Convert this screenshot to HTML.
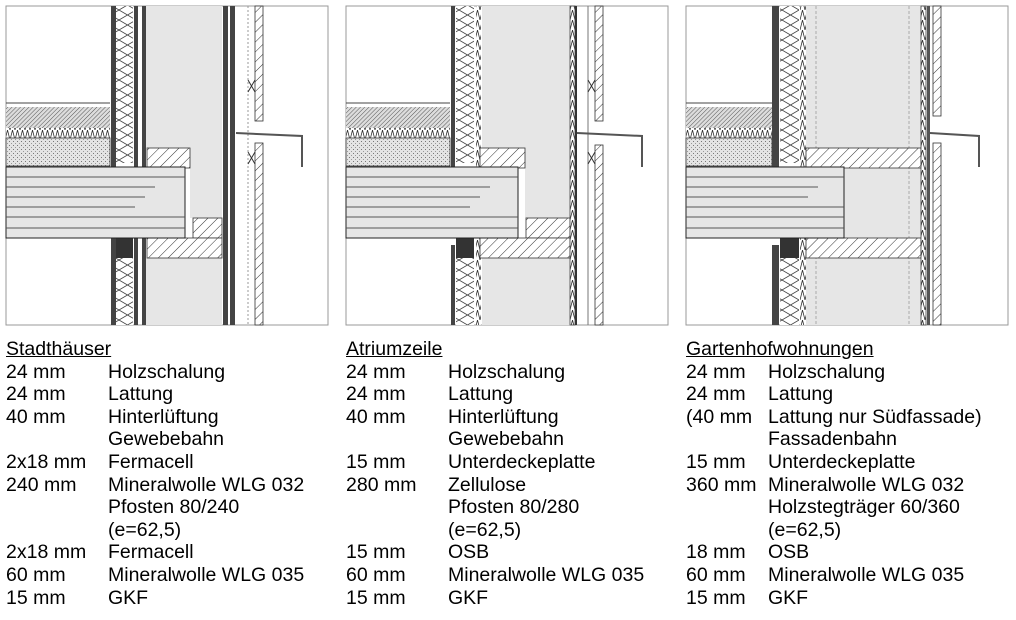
<!DOCTYPE html>
<html><head><meta charset="utf-8"><style>
html,body{margin:0;padding:0;background:#fff;}
svg{display:block;position:absolute;left:0;top:0}
.t{position:absolute;font-family:"Liberation Sans",Arial,sans-serif;font-size:19.5px;color:#000;line-height:22.6px;white-space:pre;margin:0}
</style></head><body>
<svg width="1016" height="330" viewBox="0 0 1016 330" xmlns="http://www.w3.org/2000/svg">
<defs>
<pattern id="h" width="7" height="7" patternUnits="userSpaceOnUse" patternTransform="rotate(45)"><rect width="7" height="7" fill="#fff"/><line x1="0" y1="0" x2="0" y2="7" stroke="#333" stroke-width="1"/></pattern>
<pattern id="hf" width="3" height="3" patternUnits="userSpaceOnUse" patternTransform="rotate(45)"><rect width="3" height="3" fill="#ddd"/><line x1="0" y1="0" x2="0" y2="3" stroke="#555" stroke-width="1"/></pattern>
<pattern id="z" width="17" height="10" patternUnits="userSpaceOnUse"><rect width="17" height="10" fill="#fff"/><path d="M0,0 L17,10 M17,0 L0,10" stroke="#444" stroke-width="0.8" fill="none"/></pattern>
<pattern id="zh" width="5" height="10" patternUnits="userSpaceOnUse"><rect width="5" height="10" fill="#fff"/><path d="M0,10 L2.5,0 L5,10" stroke="#333" fill="none" stroke-width="0.8"/></pattern>
<pattern id="d" width="4" height="4" patternUnits="userSpaceOnUse"><rect width="4" height="4" fill="#e4e4e4"/><rect x="1" y="1" width="1" height="1" fill="#777"/><rect x="3" y="3" width="1" height="1" fill="#999"/></pattern>
</defs>

<g>
<rect x="6" y="6" width="322" height="319" fill="#fff" stroke="#999"/>
<line x1="6" y1="103" x2="110" y2="103" stroke="#444"/>
<rect x="6" y="107" width="104" height="21" fill="url(#hf)"/>
<rect x="6" y="128" width="104" height="10" fill="url(#zh)"/>
<rect x="6" y="138" width="104" height="28" fill="url(#d)" stroke="#333" stroke-width="0.8"/>
<rect x="111" y="6" width="5" height="161" fill="#444"/>
<rect x="111" y="238" width="5" height="87" fill="#444"/>
<rect x="116" y="6" width="17" height="157" fill="url(#z)"/>
<rect x="116" y="258" width="17" height="67" fill="url(#z)"/>
<rect x="116" y="238" width="17" height="20" fill="#333"/>
<rect x="134" y="6" width="4" height="161" fill="#444"/><rect x="142" y="6" width="4" height="161" fill="#444"/>
<rect x="134" y="238" width="4" height="87" fill="#444"/><rect x="142" y="238" width="4" height="87" fill="#444"/>
<rect x="146" y="6" width="76" height="142" fill="#e6e6e6"/>
<rect x="146" y="258" width="76" height="67" fill="#e6e6e6"/>
<rect x="190" y="148" width="32" height="70" fill="#e6e6e6"/>
<rect x="147" y="148" width="43" height="20" fill="url(#h)" stroke="#333" stroke-width="0.8"/>
<rect x="193" y="218" width="29" height="20" fill="url(#h)" stroke="#333" stroke-width="0.8"/>
<rect x="147" y="238" width="75" height="20" fill="url(#h)" stroke="#333" stroke-width="0.8"/>
<rect x="6" y="167" width="179" height="71" fill="#e6e6e6" stroke="#222"/>
<g stroke="#555"><line x1="6" y1="177" x2="185" y2="177"/><line x1="6" y1="187" x2="155" y2="187"/><line x1="6" y1="197" x2="145" y2="197"/><line x1="6" y1="207" x2="135" y2="207"/><line x1="6" y1="217" x2="185" y2="217"/><line x1="6" y1="228" x2="185" y2="228"/></g>
<rect x="223" y="6" width="5" height="319" fill="#444"/><rect x="230" y="6" width="5" height="319" fill="#444"/>
<line x1="248" y1="6" x2="248" y2="325" stroke="#999" stroke-dasharray="2,2"/>
<rect x="255" y="6" width="8" height="115" fill="url(#h)" stroke="#333" stroke-width="0.8"/>
<rect x="255" y="143" width="8" height="182" fill="url(#h)" stroke="#333" stroke-width="0.8"/>
<path d="M236,133 L302,136 L302,167" fill="none" stroke="#555" stroke-width="2"/>
<path d="M248,80 L255,92 M255,80 L248,92 M248,152 L255,164 M255,152 L248,164" stroke="#333"/>
</g>

<g transform="translate(340,0)">
<rect x="6" y="6" width="322" height="319" fill="#fff" stroke="#999"/>
<line x1="6" y1="103" x2="110" y2="103" stroke="#444"/>
<rect x="6" y="107" width="104" height="21" fill="url(#hf)"/>
<rect x="6" y="128" width="104" height="10" fill="url(#zh)"/>
<rect x="6" y="138" width="104" height="28" fill="url(#d)" stroke="#333" stroke-width="0.8"/>
<rect x="111" y="6" width="4" height="161" fill="#444"/>
<rect x="111" y="245" width="4" height="80" fill="#444"/>
<rect x="116" y="6" width="18" height="157" fill="url(#z)"/>
<rect x="116" y="258" width="18" height="67" fill="url(#z)"/>
<rect x="116" y="238" width="18" height="20" fill="#333"/>
<rect x="136" y="6" width="5" height="319" fill="url(#zh)"/>
<rect x="142" y="6" width="88" height="142" fill="#e6e6e6"/>
<rect x="142" y="258" width="88" height="67" fill="#e6e6e6"/>
<rect x="185" y="148" width="45" height="70" fill="#e6e6e6"/>
<rect x="140" y="148" width="45" height="20" fill="url(#h)" stroke="#333" stroke-width="0.8"/>
<rect x="186" y="218" width="44" height="20" fill="url(#h)" stroke="#333" stroke-width="0.8"/>
<rect x="140" y="238" width="90" height="20" fill="url(#h)" stroke="#333" stroke-width="0.8"/>
<rect x="6" y="167" width="172" height="71" fill="#e6e6e6" stroke="#222"/>
<g stroke="#555"><line x1="6" y1="177" x2="178" y2="177"/><line x1="6" y1="187" x2="150" y2="187"/><line x1="6" y1="197" x2="140" y2="197"/><line x1="6" y1="207" x2="130" y2="207"/><line x1="6" y1="217" x2="178" y2="217"/><line x1="6" y1="228" x2="178" y2="228"/></g>
<rect x="230" y="6" width="5" height="319" fill="url(#zh)" stroke="#444" stroke-width="0.8"/>
<rect x="235" y="6" width="2" height="319" fill="#333"/>
<line x1="248" y1="6" x2="248" y2="325" stroke="#777"/>
<rect x="255" y="6" width="8" height="115" fill="url(#h)" stroke="#333" stroke-width="0.8"/>
<rect x="255" y="145" width="8" height="180" fill="url(#h)" stroke="#333" stroke-width="0.8"/>
<path d="M237,133 L302,136 L302,167" fill="none" stroke="#555" stroke-width="2"/>
<path d="M248,80 L255,92 M255,80 L248,92 M248,152 L255,164 M255,152 L248,164" stroke="#333"/>
</g>

<g transform="translate(680,0)">
<rect x="6" y="6" width="322" height="319" fill="#fff" stroke="#999"/>
<line x1="6" y1="103" x2="92" y2="103" stroke="#444"/>
<rect x="6" y="107" width="86" height="21" fill="url(#hf)"/>
<rect x="6" y="128" width="86" height="10" fill="url(#zh)"/>
<rect x="6" y="138" width="86" height="28" fill="url(#d)" stroke="#333" stroke-width="0.8"/>
<rect x="92" y="6" width="7" height="161" fill="#444"/>
<rect x="92" y="245" width="7" height="80" fill="#444"/>
<rect x="100" y="6" width="19" height="157" fill="url(#z)"/>
<rect x="100" y="258" width="19" height="67" fill="url(#z)"/>
<rect x="100" y="238" width="19" height="20" fill="#333"/>
<rect x="120" y="6" width="6" height="319" fill="url(#zh)"/>
<rect x="126" y="6" width="115" height="319" fill="#e6e6e6"/>
<line x1="136" y1="6" x2="136" y2="325" stroke="#aaa" stroke-dasharray="3,2"/>
<line x1="229" y1="6" x2="229" y2="325" stroke="#aaa" stroke-dasharray="3,2"/>
<rect x="126" y="148" width="115" height="20" fill="url(#h)" stroke="#333" stroke-width="0.8"/>
<rect x="126" y="238" width="115" height="20" fill="url(#h)" stroke="#333" stroke-width="0.8"/>
<rect x="6" y="167" width="158" height="71" fill="#e6e6e6" stroke="#222"/>
<g stroke="#555"><line x1="6" y1="177" x2="164" y2="177"/><line x1="6" y1="187" x2="138" y2="187"/><line x1="6" y1="197" x2="128" y2="197"/><line x1="6" y1="207" x2="164" y2="207"/><line x1="6" y1="217" x2="164" y2="217"/><line x1="6" y1="228" x2="164" y2="228"/></g>
<rect x="241" y="6" width="5" height="319" fill="url(#zh)" stroke="#444" stroke-width="0.8"/>
<rect x="247" y="6" width="3" height="319" fill="#555"/>
<rect x="253" y="6" width="8" height="110" fill="url(#h)" stroke="#333" stroke-width="0.8"/>
<rect x="253" y="143" width="8" height="182" fill="url(#h)" stroke="#333" stroke-width="0.8"/>
<path d="M250,133 L299,136 L299,167" fill="none" stroke="#555" stroke-width="2"/>
</g>
</svg>

<div class="t" style="left:6px;top:338px"><u>Stadthäuser</u>
24 mm
24 mm
40 mm

2x18 mm
240 mm


2x18 mm
60 mm
15 mm</div>
<div class="t" style="left:108px;top:338px"> 
Holzschalung
Lattung
Hinterlüftung
Gewebebahn
Fermacell
Mineralwolle WLG 032
Pfosten 80/240
(e=62,5)
Fermacell
Mineralwolle WLG 035
GKF</div>

<div class="t" style="left:346px;top:338px"><u>Atriumzeile</u>
24 mm
24 mm
40 mm

15 mm
280 mm


15 mm
60 mm
15 mm</div>
<div class="t" style="left:448px;top:338px"> 
Holzschalung
Lattung
Hinterlüftung
Gewebebahn
Unterdeckeplatte
Zellulose
Pfosten 80/280
(e=62,5)
OSB
Mineralwolle WLG 035
GKF</div>

<div class="t" style="left:686px;top:338px"><u>Gartenhofwohnungen</u>
24 mm
24 mm
(40 mm

15 mm
360 mm


18 mm
60 mm
15 mm</div>
<div class="t" style="left:768px;top:338px"> 
Holzschalung
Lattung
Lattung nur Südfassade)
Fassadenbahn
Unterdeckeplatte
Mineralwolle WLG 032
Holzstegträger 60/360
(e=62,5)
OSB
Mineralwolle WLG 035
GKF</div>
</body></html>
